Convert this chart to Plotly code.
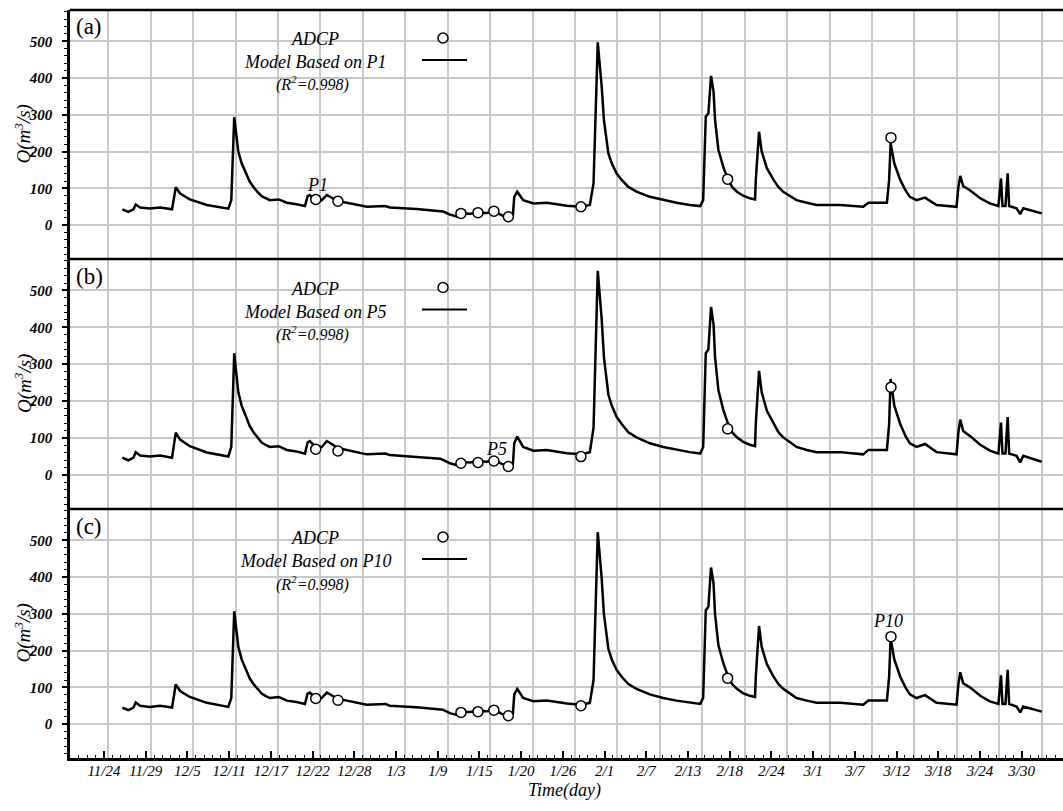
import plotly.graph_objects as go

# ---------------- data ----------------
# time axis in days since 11/24
days = [1.9, 2.7, 3.4, 3.7, 4.3, 5.6, 7.0, 7.9, 8.6, 8.9,
        9.1, 9.7, 11.0, 13.3, 16.2, 16.6, 17.0, 17.2, 17.55, 18.0,
        18.7, 19.1, 19.6, 20.1, 20.7, 21.2, 21.8, 23.0, 24.1, 25.4,
        26.55, 26.9, 27.2, 28.0, 28.8, 29.5, 30.2, 31.0, 32.2, 34.9,
        37.4, 38.0, 41.6, 44.8, 45.2, 46.1, 47.0, 47.6, 48.8, 49.9,
        51.1, 52.05, 53.1, 54.0, 54.6, 54.8, 55.2, 56.0, 57.4, 59.2,
        61.9, 63.8, 65.0, 65.5, 66.07, 66.6, 66.9, 67.5, 67.96, 68.6,
        69.3, 70.2, 71.3, 73.1, 74.9, 76.7, 78.5, 79.9, 80.3, 80.65,
        81.0, 81.36, 81.7, 81.9, 82.35, 83.0, 83.6, 84.2, 84.85, 85.7,
        86.6, 87.3, 87.4, 87.84, 88.2, 88.9, 89.8, 90.45, 91.1, 92.0,
        92.9, 94.3, 95.6, 98.8, 101.9, 102.6, 105.1, 105.4, 105.6, 106.1,
        106.9, 107.6, 108.2, 109.1, 110.25, 111.8, 114.5, 114.75, 115.0, 115.4,
        116.3, 117.7, 119.0, 120.15, 120.5, 120.7, 121.1, 121.4, 121.6, 122.6,
        123.1, 123.5, 124.4, 126.0]

q_p1 = [43, 36, 43, 56, 48, 45, 48, 45, 43, 78,
        103, 86, 70, 55, 45, 68, 294, 259, 200, 168,
        136, 118, 104, 91, 79, 73, 68, 70, 61, 57,
        52, 79, 82, 68, 68, 82, 73, 65, 61, 50,
        52, 48, 44, 39, 37, 29, 24, 32, 31, 34,
        33, 38, 27, 23, 23, 77, 91, 68, 59, 61,
        53, 50, 55, 114, 497, 377, 286, 195, 168, 141,
        123, 104, 91, 77, 68, 61, 55, 52, 68, 295,
        304, 406, 364, 286, 205, 159, 127, 104, 91, 80,
        73, 70, 123, 254, 200, 155, 123, 104, 91, 79,
        68, 61, 55, 55, 50, 61, 61, 123, 223, 168,
        123, 95, 77, 68, 75, 55, 50, 104, 134, 106,
        95, 73, 59, 52, 127, 52, 52, 141, 52, 46,
        30, 46, 41, 32]

q_p5 = [47, 40, 47, 62, 53, 50, 53, 50, 47, 87,
        115, 96, 78, 61, 50, 76, 330, 290, 224, 188,
        152, 132, 116, 102, 88, 82, 76, 78, 68, 64,
        58, 88, 92, 76, 76, 92, 82, 73, 68, 56,
        58, 54, 49, 44, 41, 32, 27, 35, 34, 37,
        36, 42, 30, 25, 25, 86, 104, 76, 66, 68,
        59, 56, 62, 128, 553, 422, 320, 218, 188, 158,
        138, 116, 102, 86, 76, 68, 62, 58, 76, 330,
        340, 455, 408, 320, 230, 178, 142, 116, 102, 90,
        82, 78, 138, 282, 224, 174, 138, 116, 102, 88,
        76, 68, 62, 62, 56, 68, 68, 138, 260, 188,
        138, 106, 86, 76, 84, 62, 56, 116, 150, 119,
        106, 82, 66, 58, 142, 58, 58, 157, 58, 52,
        34, 52, 46, 36]

q_p10 = [45, 38, 45, 59, 50, 47, 50, 47, 45, 82,
         108, 90, 74, 58, 47, 71, 307, 272, 210, 176,
         143, 124, 109, 96, 83, 77, 71, 74, 64, 60,
         55, 83, 86, 71, 71, 86, 77, 68, 64, 53,
         55, 50, 46, 41, 39, 30, 25, 34, 33, 36,
         35, 40, 28, 24, 24, 81, 96, 71, 62, 64,
         56, 53, 58, 120, 522, 396, 300, 205, 176, 148,
         129, 109, 96, 81, 71, 64, 58, 55, 71, 310,
         319, 426, 382, 300, 215, 167, 133, 109, 96, 84,
         77, 74, 129, 267, 210, 163, 129, 109, 96, 83,
         71, 64, 58, 58, 53, 64, 64, 129, 234, 176,
         129, 100, 81, 71, 79, 58, 53, 109, 141, 111,
         100, 77, 62, 55, 133, 55, 55, 148, 55, 48,
         32, 48, 43, 34]

adcp_days = [28.0, 31.0, 47.6, 49.9, 52.05, 54.0, 63.8, 83.6, 105.65]
adcp_q = [70, 65, 32, 34, 38, 23, 50, 125, 238]

date_labels = ["11/24", "11/29", "12/5", "12/11", "12/17", "12/22", "12/28", "1/3", "1/9",
               "1/15", "1/20", "1/26", "2/1", "2/7", "2/13", "2/18", "2/24", "3/1", "3/7",
               "3/12", "3/18", "3/24", "3/30"]
y_ticks = [0, 100, 200, 300, 400, 500]

panel_series = [q_p1, q_p5, q_p10]
panel_letters = ["(a)", "(b)", "(c)"]
panel_points = ["P1", "P5", "P10"]
point_labels = [(28.2, 109), (52.4, 70), (105.2, 280)]

# ---------------- layout geometry ----------------
W, H = 1063, 811
L, R, T, B = 70, 0, 10, 53
PW, PH = W - L - R, H - T - B
SPAN = 126.0
n_int = len(date_labels) - 1
tick_pos = [i * SPAN / n_int for i in range(len(date_labels))]


def px(x):
    return (x - L) / PW


def py(y):
    return (H - B - y) / PH


FONT = "Liberation Serif, Times New Roman, serif"
xr_panel = [-5.17, 128.87]
xr_bottom = [-4.67, 131.67]
yr = [-92, 585]
domains = [[py(259), 1.0], [py(509), py(259)], [0.0, py(509)]]

fig = go.Figure()
for k in range(3):
    xa = "x" if k == 0 else f"x{k+1}"
    ya = "y" if k == 0 else f"y{k+1}"
    fig.add_trace(go.Scatter(x=days, y=panel_series[k], mode="lines",
                             line=dict(color="black", width=2.5),
                             xaxis=xa, yaxis=ya, showlegend=False))
    fig.add_trace(go.Scatter(x=adcp_days, y=adcp_q, mode="markers",
                             marker=dict(symbol="circle", size=10, color="white",
                                         line=dict(color="black", width=1.5)),
                             xaxis=xa, yaxis=ya, showlegend=False))

# bottom date axis carrier
fig.add_trace(go.Scatter(x=tick_pos, y=[None] * len(tick_pos), mode="lines",
                         xaxis="x4", yaxis="y3", showlegend=False, hoverinfo="skip"))

layout = dict(
    width=W, height=H,
    margin=dict(l=L, r=R, t=T, b=B),
    paper_bgcolor="white", plot_bgcolor="white",
    showlegend=False,
)

for k in range(3):
    xk = "xaxis" if k == 0 else f"xaxis{k+1}"
    yk = "yaxis" if k == 0 else f"yaxis{k+1}"
    anchor_y = "y" if k == 0 else f"y{k+1}"
    anchor_x = "x" if k == 0 else f"x{k+1}"
    layout[xk] = dict(domain=[0, 1], anchor=anchor_y, range=xr_panel,
                      tickmode="array", tickvals=tick_pos, showticklabels=False,
                      ticks="", showgrid=True, gridcolor="#c8c8c8", gridwidth=1.5,
                      showline=False, zeroline=False)
    layout[yk] = dict(domain=domains[k], anchor=anchor_x, range=yr,
                      tickmode="array", tickvals=y_ticks, ticktext=[str(v) for v in y_ticks],
                      showgrid=True, gridcolor="#c8c8c8", gridwidth=1.5,
                      showline=True, linecolor="black", linewidth=2.6, mirror=False,
                      ticks="outside", ticklen=5, tickwidth=1.5, tickcolor="black",
                      minor=dict(ticks="outside", ticklen=3, tickwidth=1.2, tickcolor="black",
                                 tick0=0, dtick=20, showgrid=False),
                      ticklabelstandoff=7,
                      tickfont=dict(family=FONT, size=15, color="black", style="italic",
                                    weight="bold"),
                      zeroline=False)

layout["xaxis4"] = dict(overlaying="x3", anchor="y3", side="bottom", range=xr_bottom,
                        tickmode="array", tickvals=tick_pos, ticktext=date_labels,
                        ticks="inside", ticklen=7, tickwidth=1.5, tickcolor="black",
                        minor=dict(ticks="inside", ticklen=3.5, tickwidth=1.2, tickcolor="black",
                                   tick0=0, dtick=SPAN / n_int / 5, showgrid=False),
                        showgrid=False, showline=True, linecolor="black", linewidth=2.6,
                        zeroline=False, ticklabelstandoff=-3,
                        tickfont=dict(family=FONT, size=15, color="black", style="italic"))

fig.update_layout(**layout)

annotations = []
shapes = []
# panel frame lines (top border and separators)
for yb in [10, 259, 509]:
    shapes.append(dict(type="line", xref="paper", yref="paper", x0=0, x1=1,
                       y0=py(yb), y1=py(yb), line=dict(color="black", width=2.7)))

for k in range(3):
    dy = k * 249.5
    xa = "x" if k == 0 else f"x{k+1}"
    ya = "y" if k == 0 else f"y{k+1}"
    center = dict(xanchor="center", yanchor="middle", showarrow=False)
    # panel letter
    annotations.append(dict(xref="paper", yref="paper", x=px(89), y=py(27 + dy),
                            text=panel_letters[k],
                            font=dict(family=FONT, size=23, color="black"), **center))
    # legend texts
    annotations.append(dict(xref="paper", yref="paper", x=px(315), y=py(39 + dy),
                            text="<i>ADCP</i>",
                            font=dict(family=FONT, size=18, color="black"), **center))
    annotations.append(dict(xref="paper", yref="paper", x=px(315), y=py(62 + dy),
                            text=f"<i>Model Based on {panel_points[k]}</i>",
                            font=dict(family=FONT, size=18, color="black"), **center))
    annotations.append(dict(xref="paper", yref="paper", x=px(312), y=py(84 + dy),
                            text="<i>(R<sup>2</sup>=0.998)</i>",
                            font=dict(family=FONT, size=16, color="black"), **center))
    # legend symbols
    shapes.append(dict(type="circle", xref="paper", yref="paper",
                       x0=px(438), x1=px(448), y0=py(43 + dy), y1=py(33 + dy),
                       line=dict(color="black", width=1.5), fillcolor="white"))
    shapes.append(dict(type="line", xref="paper", yref="paper",
                       x0=px(422), x1=px(467), y0=py(60 + dy), y1=py(60 + dy),
                       line=dict(color="black", width=2.2)))
    # point label
    annotations.append(dict(xref=xa, yref=ya, x=point_labels[k][0], y=point_labels[k][1],
                            text=f"<i>{panel_points[k]}</i>",
                            font=dict(family=FONT, size=18, color="black"), **center))
    # y axis title
    annotations.append(dict(xref="paper", yref="paper", x=px(23), y=py(134.5 + dy),
                            text="<i>Q(m<sup>3</sup>/s)</i>", textangle=-90,
                            font=dict(family=FONT, size=19, color="black"), **center))

annotations.append(dict(xref="paper", yref="paper", x=px(564), y=py(790),
                        text="<i>Time(day)</i>", xanchor="center", yanchor="middle",
                        showarrow=False, font=dict(family=FONT, size=18, color="black")))

fig.update_layout(annotations=annotations, shapes=shapes)
fig.write_html("out.html", post_script="document.body.style.margin='0px';",
               config={"displayModeBar": False})
